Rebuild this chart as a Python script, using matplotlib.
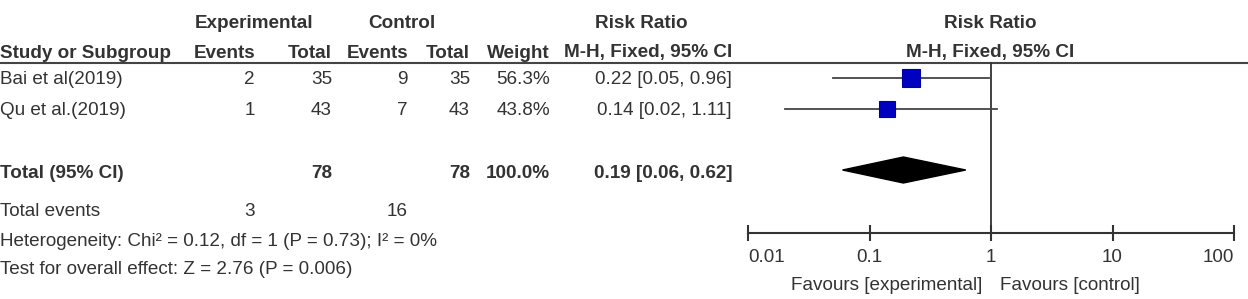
import matplotlib.pyplot as plt
from matplotlib.patches import Polygon

plt.rcParams['font.family'] = ['Liberation Sans', 'DejaVu Sans']

# data
studies = ["Bai et al(2019)", "Qu et al.(2019)"]
exp_events = [2, 1]
exp_total = [35, 43]
ctrl_events = [9, 7]
ctrl_total = [35, 43]
weight = [56.3, 43.8]
rr = [0.22, 0.14]
ci_low = [0.05, 0.02]
ci_high = [0.96, 1.11]

pooled_rr = 0.19
pooled_low = 0.06
pooled_high = 0.62
total_weight = 100.0
total_exp = 78
total_ctrl = 78
events_exp = 3
events_ctrl = 16
heterogeneity = "Heterogeneity: Chi\u00b2 = 0.12, df = 1 (P = 0.73); I\u00b2 = 0%"
overall = "Test for overall effect: Z = 2.76 (P = 0.006)"
ticks = [0.01, 0.1, 1, 10, 100]
tick_labels = ["0.01", "0.1", "1", "10", "100"]

W, H = 1248, 299
txt = '#333333'
fs = 13.6

fig = plt.figure(figsize=(W / 100, H / 100), dpi=100)
tab = fig.add_axes([0, 0, 1, 1])
tab.set_xlim(0, W)
tab.set_ylim(H, 0)
tab.axis('off')

# row layout (pixels from top)
y_head1, y_head2 = 23, 53
y_rows = [78, 109]
y_total, y_events, y_het, y_over = 172, 210, 240, 268
y_axis = 233
dy = 1.5  # text sits a bit low of the row centre

# column right edges
c_ee, c_et, c_ce, c_ct, c_w, c_rr = 255, 332, 408, 470, 550, 732

hb = dict(fontsize=fs, color=txt, fontweight='bold', va='center')
tab.text(254, y_head1, "Experimental", ha='center', **hb)
tab.text(402, y_head1, "Control", ha='center', **hb)
tab.text(641, y_head1, "Risk Ratio", ha='center', **hb)
tab.text(990, y_head1, "Risk Ratio", ha='center', **hb)
tab.text(0, y_head2, "Study or Subgroup", ha='left', **hb)
tab.text(c_ee, y_head2, "Events", ha='right', **hb)
tab.text(c_et, y_head2, "Total", ha='right', **hb)
tab.text(c_ce, y_head2, "Events", ha='right', **hb)
tab.text(c_ct, y_head2, "Total", ha='right', **hb)
tab.text(c_w, y_head2, "Weight", ha='right', **hb)
tab.text(c_rr, y_head2, "M-H, Fixed, 95% CI", ha='right', **hb)
tab.text(990, y_head2, "M-H, Fixed, 95% CI", ha='center', **hb)
tab.plot([0, W], [63, 63], color='#444444', lw=1.5)

nb = dict(fontsize=fs, color=txt, va='center')
for i, name in enumerate(studies):
    y = y_rows[i] + dy
    tab.text(0, y, name, ha='left', **nb)
    tab.text(c_ee, y, str(exp_events[i]), ha='right', **nb)
    tab.text(c_et, y, str(exp_total[i]), ha='right', **nb)
    tab.text(c_ce, y, str(ctrl_events[i]), ha='right', **nb)
    tab.text(c_ct, y, str(ctrl_total[i]), ha='right', **nb)
    tab.text(c_w, y, f"{weight[i]:.1f}%", ha='right', **nb)
    tab.text(c_rr, y, f"{rr[i]:.2f} [{ci_low[i]:.2f}, {ci_high[i]:.2f}]", ha='right', **nb)

yt = y_total + dy
tab.text(0, yt, "Total (95% CI)", ha='left', **hb)
tab.text(c_et, yt, str(total_exp), ha='right', **hb)
tab.text(c_ct, yt, str(total_ctrl), ha='right', **hb)
tab.text(c_w, yt, f"{total_weight:.1f}%", ha='right', **hb)
tab.text(c_rr, yt, f"{pooled_rr:.2f} [{pooled_low:.2f}, {pooled_high:.2f}]", ha='right', **hb)

tab.text(0, y_events + dy, "Total events", ha='left', **nb)
tab.text(c_ee, y_events + dy, str(events_exp), ha='right', **nb)
tab.text(c_ce, y_events + dy, str(events_ctrl), ha='right', **nb)
tab.text(0, y_het + dy, heterogeneity, ha='left', **nb)
tab.text(0, y_over + dy, overall, ha='left', **nb)

# forest panel, log x scale
x0, x1 = 748, 1234
ax = fig.add_axes([x0 / W, (H - y_axis) / H, (x1 - x0) / W, y_axis / H])
ax.patch.set_alpha(0)
ax.set_xscale('log')
ax.set_xlim(0.01, 100)
ax.set_ylim(y_axis, 0)
for s in ['top', 'left', 'right']:
    ax.spines[s].set_visible(False)
ax.spines['bottom'].set_color('#333333')
ax.spines['bottom'].set_linewidth(1.5)
ax.set_yticks([])
ax.set_xticks(ticks)
ax.set_xticklabels(tick_labels)
ax.minorticks_off()
ax.tick_params(axis='x', direction='inout', length=11, width=1.5, color='#333333',
               labelsize=fs, labelcolor=txt, pad=6)
labs = ax.get_xticklabels()
labs[0].set_ha('left')
labs[-1].set_ha('right')

ax.plot([1, 1], [63, y_axis], color='#333333', lw=1.3)
for i in range(len(studies)):
    y = y_rows[i]
    ax.plot([ci_low[i], ci_high[i]], [y, y], color='#444444', lw=1.3)
    ax.plot(rr[i], y, marker='s', ms=1.68 * weight[i] ** 0.5, color='#0000c0',
            mec='#0000a0', mew=0.8, ls='none')

dia = Polygon([(pooled_low, y_total - 2), (pooled_rr, y_total - 15),
               (pooled_high, y_total - 2), (pooled_rr, y_total + 11)],
              closed=True, facecolor='black', edgecolor='black')
ax.add_patch(dia)

ax.annotate("Favours [experimental]", xy=(1, y_axis), xycoords='data',
            xytext=(-9, -52), textcoords='offset pixels', ha='right', va='center',
            fontsize=fs, color=txt, annotation_clip=False)
ax.annotate("Favours [control]", xy=(1, y_axis), xycoords='data',
            xytext=(9, -52), textcoords='offset pixels', ha='left', va='center',
            fontsize=fs, color=txt, annotation_clip=False)

fig.savefig('out.png', dpi=100)
